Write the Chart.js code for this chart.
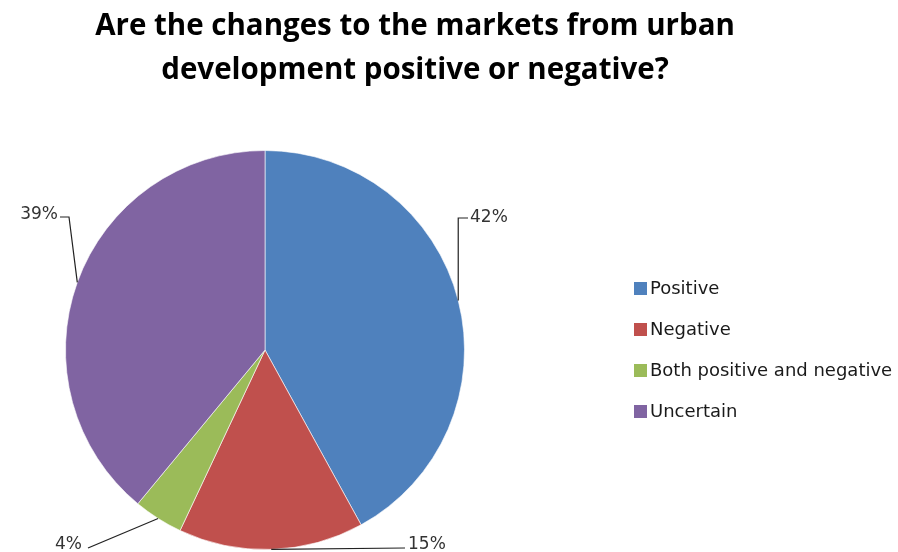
<!DOCTYPE html>
<html>
<head>
<meta charset="utf-8">
<script src="https://cdn.jsdelivr.net/npm/chart.js@4.4.1/dist/chart.umd.min.js"></script>
<style>
  html, body { margin: 0; padding: 0; background: #fff; }
  #wrap { position: relative; width: 898px; height: 552px; }
</style>
</head>
<body>
<div id="wrap"><canvas id="myChart" width="898" height="552"></canvas></div>
<script>
const titleLines = ["Are the changes to the markets from urban", "development positive or negative?"];
const categories = ["Positive", "Negative", "Both positive and negative", "Uncertain"];
const shares = [42, 15, 4, 39];
const sliceColors = ["#4F81BD", "#C0504D", "#9BBB59", "#8064A2"];

// leader line shape for each slice label: elbow point, end point, text spot
const leaders = [
  { elbow: null, end: [468, 218], text: [470, 218], align: "left", vertical: true },
  { elbow: null, end: [405, 548], text: [408, 545], align: "left" },
  { elbow: null, end: [88, 548], text: [82, 545], align: "right" },
  { elbow: [69, 217], end: [60, 217], text: [58, 215], align: "right" },
];

const decorations = {
  id: "decorations",
  afterDraw(chart) {
    const ctx = chart.ctx;
    ctx.save();

    // title
    ctx.fillStyle = "#000";
    ctx.font = "bold 29.5px 'Open Sans'";
    ctx.textAlign = "center";
    ctx.textBaseline = "middle";
    ctx.fillText(titleLines[0], 415, 27);
    ctx.fillText(titleLines[1], 415, 71);

    // legend
    ctx.font = "18px 'DejaVu Sans'";
    ctx.textAlign = "left";
    const rows = [288, 329, 370, 411];
    chart.data.labels.forEach(function (lbl, i) {
      ctx.fillStyle = chart.data.datasets[0].backgroundColor[i];
      ctx.fillRect(634, rows[i] - 6, 13, 13);
      ctx.fillStyle = "#1a1a1a";
      ctx.fillText(lbl, 650, rows[i] + 1);
    });

    // slice labels with leader lines
    const meta = chart.getDatasetMeta(0);
    ctx.strokeStyle = "#222";
    ctx.lineWidth = 1.2;
    ctx.font = "17px 'DejaVu Sans'";
    ctx.fillStyle = "#333";
    meta.data.forEach(function (arc, i) {
      const mid = (arc.startAngle + arc.endAngle) / 2;
      const ax = arc.x + arc.outerRadius * Math.cos(mid);
      const ay = arc.y + arc.outerRadius * Math.sin(mid);
      const l = leaders[i];
      ctx.beginPath();
      ctx.moveTo(ax, ay);
      if (l.vertical) {
        ctx.lineTo(ax, l.end[1]);
      } else if (l.elbow) {
        ctx.lineTo(l.elbow[0], l.elbow[1]);
      }
      ctx.lineTo(l.end[0], l.end[1]);
      ctx.stroke();
      ctx.textAlign = l.align;
      ctx.fillText(chart.data.datasets[0].data[i] + "%", l.text[0], l.text[1]);
    });
    ctx.restore();
  },
};

new Chart(document.getElementById("myChart"), {
  type: "pie",
  data: {
    labels: categories,
    datasets: [
      {
        data: shares,
        backgroundColor: sliceColors,
        borderColor: "rgba(255,255,255,0.6)",
        borderWidth: 1,
      },
    ],
  },
  options: {
    responsive: false,
    animation: false,
    layout: { padding: { left: 65, right: 433, top: 150, bottom: 2 } },
    plugins: {
      legend: { display: false },
      tooltip: { enabled: false },
    },
  },
  plugins: [decorations],
});
</script>
</body>
</html>
